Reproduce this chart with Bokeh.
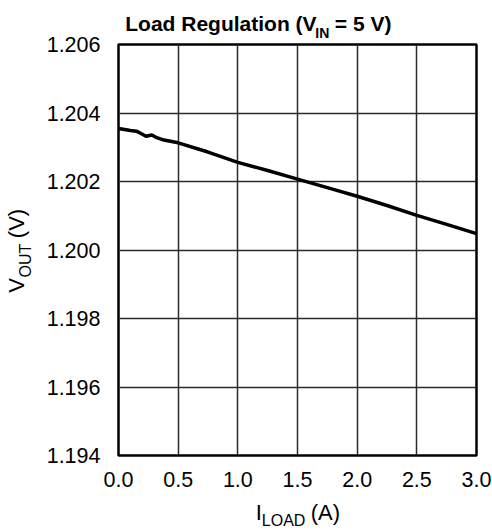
import math
from bokeh.plotting import figure
from bokeh.models import Range1d, FixedTicker, PrintfTickFormatter, LinearAxis
from bokeh.embed import file_html
from bokeh.resources import INLINE

# ---- data ----
i_load = [0.0, 0.05, 0.10, 0.15, 0.20, 0.23, 0.28, 0.32, 0.37, 0.50, 0.75,
          1.00, 1.25, 1.50, 1.75, 2.00, 2.25, 2.50, 2.75, 3.00]
v_out = [1.20355, 1.20352, 1.20349, 1.20347, 1.20338, 1.20332, 1.20336, 1.20328,
         1.20322, 1.20313, 1.20286, 1.20256, 1.20232, 1.20207, 1.20182, 1.20157,
         1.20130, 1.20101, 1.20075, 1.20048]
x_ticks = [0.0, 0.5, 1.0, 1.5, 2.0, 2.5, 3.0]
y_ticks = [1.194, 1.196, 1.198, 1.200, 1.202, 1.204, 1.206]

title_parts = ["Load Regulation (V", "IN", "= 5 V)"]
xlabel_parts = ["I", "LOAD", "(A)"]
ylabel_parts = ["V", "OUT", "(V)"]

FONT = "Liberation Sans"

# Arial / Liberation Sans advance widths (per em)
REG = {'I': .278, 'L': .556, 'O': .778, 'A': .667, 'D': .722, ' ': .278, '(': .333,
       ')': .333, 'V': .667, 'U': .722, 'T': .611}
BOLD = {'L': .611, 'o': .611, 'a': .556, 'd': .611, ' ': .278, 'R': .722, 'e': .556,
        'g': .611, 'u': .611, 'l': .278, 't': .333, 'i': .278, 'n': .611, '(': .333,
        'V': .667, 'I': .278, 'N': .722, '=': .584, '5': .556, ')': .333}


def tw(s, size, table):
    return sum(table[c] for c in s) * size


W, H = 492, 531
FL, FT, FW, FH = 116, 44, 360, 411          # frame left/top/width/height (px)

p = figure(width=W, height=H, output_backend="svg", toolbar_location=None,
           x_range=Range1d(0, 3.0), y_range=Range1d(1.194, 1.206),
           min_border_left=FL, min_border_right=W - FL - FW, min_border_top=FT,
           min_border_bottom=H - FT - FH)
p.background_fill_color = "white"
p.border_fill_color = "white"
p.outline_line_color = "black"
p.outline_line_width = 2.5
p.extra_x_ranges = {"px": Range1d(0, FW)}
p.extra_y_ranges = {"py": Range1d(0, FH)}

xa = p.xaxis[0]
ya = p.yaxis[0]
xa.ticker = FixedTicker(ticks=x_ticks)
ya.ticker = FixedTicker(ticks=y_ticks)
xa.formatter = PrintfTickFormatter(format="%.1f")
ya.formatter = PrintfTickFormatter(format="%.3f")


def style_axis(ax, size, bold=False):
    ax.axis_line_color = None
    ax.major_tick_line_color = None
    ax.minor_tick_line_color = None
    ax.major_tick_out = 0
    ax.major_tick_in = 0
    ax.minor_tick_out = 0
    ax.minor_tick_in = 0
    ax.major_label_text_font = FONT
    ax.major_label_text_font_size = f"{size}px"
    ax.major_label_text_font_style = "bold" if bold else "normal"
    ax.major_label_text_color = "black"


style_axis(xa, 21.5)
style_axis(ya, 21.5)
xa.major_label_standoff = 16
ya.major_label_standoff = 18

p.xgrid.ticker = FixedTicker(ticks=x_ticks)
p.ygrid.ticker = FixedTicker(ticks=y_ticks)
p.grid.grid_line_color = "#2a2a2a"
p.grid.grid_line_width = 1.5

p.line(i_load, v_out, line_color="black", line_width=3.5, line_join="round")


def text_axis(side, texts, centers, size, standoff, bold=False, vertical=False):
    """An extra axis used only to place label text (with sub-scripts)."""
    ticks = [int(round(c)) for c in centers]
    if side in ("below", "above"):
        ax = LinearAxis(x_range_name="px")
    else:
        ax = LinearAxis(y_range_name="py")
    ax.ticker = FixedTicker(ticks=ticks)
    ax.major_label_overrides = {t: s for t, s in zip(ticks, texts)}
    style_axis(ax, size, bold)
    ax.major_label_standoff = standoff
    if vertical:
        ax.major_label_orientation = "vertical"
    p.add_layout(ax, side)
    return ax


# ---- title: Load Regulation (V_IN = 5 V) ----
tm, ts = 21, 14
t0 = 123
t1 = t0 + tw(title_parts[0], tm, BOLD)
t2 = t1 + tw(title_parts[1], ts, BOLD) + tw(" ", tm, BOLD)
c_main = [t0 + tw(title_parts[0], tm, BOLD) / 2 - FL,
          t2 + tw(title_parts[2], tm, BOLD) / 2 - FL]
c_sub = [t1 + tw(title_parts[1], ts, BOLD) / 2 - FL]
text_axis("above", [title_parts[1]], c_sub, ts, 4, bold=True)
text_axis("above", [title_parts[0], title_parts[2]], c_main, tm, -13, bold=True)

# ---- x label: I_LOAD (A) ----  (subscript row first, main row pulled back up)
am, asub = 22, 16
a0 = 254
a1 = a0 + tw(xlabel_parts[0], am, REG)
a2 = a1 + tw(xlabel_parts[1], asub, REG) + tw(" ", am, REG)
xc_main = [a0 + tw(xlabel_parts[0], am, REG) / 2 - FL,
           a2 + tw(xlabel_parts[2], am, REG) / 2 - FL]
xc_sub = [a1 + tw(xlabel_parts[1], asub, REG) / 2 - FL]
text_axis("below", [xlabel_parts[1]], xc_sub, asub, 22)
text_axis("below", [xlabel_parts[0], xlabel_parts[2]], xc_main, am, -32)

# ---- y label: V_OUT (V), rotated (measured upward from frame bottom) ----
fb = FT + FH
b0 = 292
b1 = b0 - tw(ylabel_parts[0], am, REG)
b2 = b1 - tw(ylabel_parts[1], asub, REG) - tw(" ", am, REG)
yc_main = [fb - (b0 - tw(ylabel_parts[0], am, REG) / 2),
           fb - (b2 - tw(ylabel_parts[2], am, REG) / 2)]
yc_sub = [fb - (b1 - tw(ylabel_parts[1], asub, REG) / 2)]
text_axis("left", [ylabel_parts[1]], yc_sub, asub, 10, vertical=True)
text_axis("left", [ylabel_parts[0], ylabel_parts[2]], yc_main, am, -15, vertical=True)

open("out.html", "w").write(file_html(p, INLINE))
